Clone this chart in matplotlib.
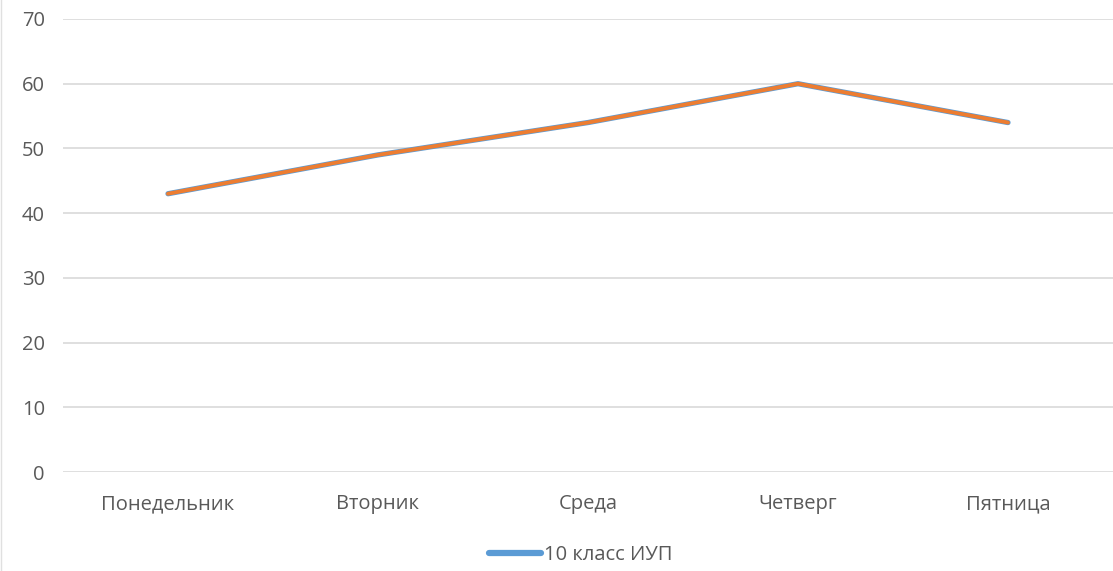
import matplotlib
matplotlib.use("Agg")
import matplotlib.pyplot as plt
from matplotlib.lines import Line2D

days = ["Понедельник", "Вторник", "Среда", "Четверг", "Пятница"]
iup_10 = [43, 49, 54, 60, 54]
second = [43, 49, 54, 60, 54]

plt.rcParams["font.family"] = ["Open Sans", "DejaVu Sans"]

fig = plt.figure(figsize=(11.13, 5.71), dpi=100)
ax = fig.add_axes([63 / 1113, 1 - 472 / 571, 1 - 63 / 1113, (472 - 19) / 571])

x = range(len(days))
ax.plot(x, iup_10, color="#5b9bd5", lw=3.8, solid_capstyle="round", zorder=3)
ax.plot(x, second, color="#ed7d31", lw=2.8, solid_capstyle="round", zorder=4)

ax.set_xlim(-0.5, len(days) - 0.5)
ax.set_ylim(0, 70)
ax.set_yticks(range(0, 71, 10))
ax.set_xticks(list(x))
ax.set_xticklabels(days)
ax.grid(axis="y", color="#d9d9d9", lw=1.2)
ax.set_axisbelow(True)
for s in ax.spines.values():
    s.set_visible(False)
ax.tick_params(length=0, labelsize=14.5, colors="#595959")
ax.tick_params(axis="x", pad=16)
ax.tick_params(axis="y", pad=13)

handle = Line2D([], [], color="#5b9bd5", lw=4.5, solid_capstyle="round")
fig.legend([handle], ["10 класс ИУП"], loc="center", bbox_to_anchor=(0.522, 1 - 555 / 571),
           frameon=False, fontsize=14.5, labelcolor="#595959", handlelength=2.6,
           handletextpad=0.15)

fig.add_artist(Line2D([0.0005, 0.0005], [0, 1], color="#e0e0e0", lw=1))

fig.savefig("out.png", dpi=100)
